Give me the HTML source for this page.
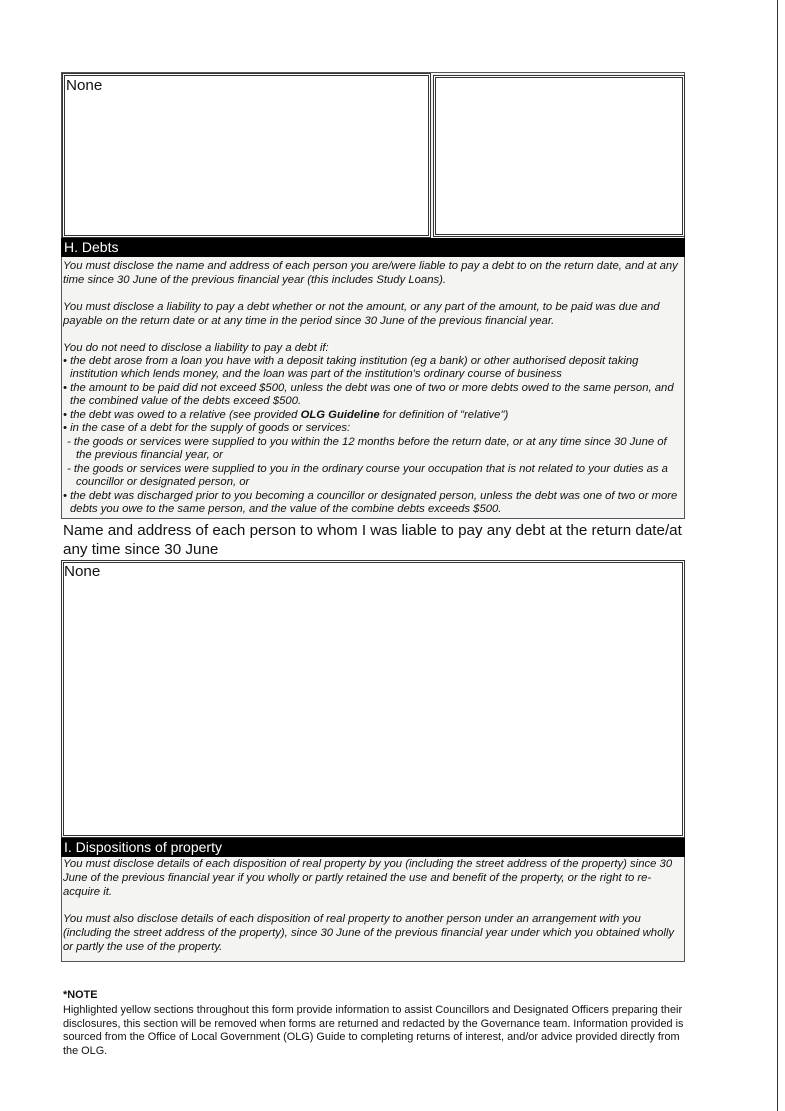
<!DOCTYPE html>
<html><head><meta charset="utf-8"><style>
body{margin:0;width:785px;height:1111px;background:#fff;position:relative;overflow:hidden;font-family:"Liberation Sans",Arial,sans-serif;color:#111}
.a{position:absolute}
.l{position:absolute;white-space:nowrap;font-style:italic;font-size:11.3px;line-height:13px}
.bar{position:absolute;background:#000;color:#fff;font-size:14px;line-height:19px;padding-left:3px}
.box{position:absolute;border:2px double #333;box-sizing:border-box}
.big{position:absolute;white-space:nowrap;font-size:15.2px;line-height:19px}
.n{position:absolute;white-space:nowrap;font-size:10.9px;line-height:13.5px}
</style></head><body>
<div class="a" style="left:777px;top:0;width:1px;height:1111px;background:#333"></div>
<div class="a" style="left:61px;top:72px;width:624px;height:890px;border:1px solid #555;box-sizing:border-box;background:#f4f4f2"></div>
<div class="box" style="left:62px;top:73px;width:369px;height:165px;background:#fff;border-width:3px"></div>
<div class="box" style="left:433px;top:75px;width:252px;height:162px;background:#fff;border-width:3px"></div>
<div class="big" style="left:66px;top:76px">None</div>
<div class="bar" style="left:61px;top:238px;width:621px">H. Debts</div>
<div class="l" style="left:63px;top:260px">You must disclose the name and address of each person you are/were liable to pay a debt to on the return date, and at any</div>
<div class="l" style="left:63px;top:274px">time since 30 June of the previous financial year (this includes Study Loans).</div>
<div class="l" style="left:63px;top:301px">You must disclose a liability to pay a debt whether or not the amount, or any part of the amount, to be paid was due and</div>
<div class="l" style="left:63px;top:315px">payable on the return date or at any time in the period since 30 June of the previous financial year.</div>
<div class="l" style="left:63px;top:342px">You do not need to disclose a liability to pay a debt if:</div>
<div class="l" style="left:63px;top:355px">• the debt arose from a loan you have with a deposit taking institution (eg a bank) or other authorised deposit taking</div>
<div class="l" style="left:70px;top:368px">institution which lends money, and the loan was part of the institution's ordinary course of business</div>
<div class="l" style="left:63px;top:382px">• the amount to be paid did not exceed $500, unless the debt was one of two or more debts owed to the same person, and</div>
<div class="l" style="left:70px;top:395px">the combined value of the debts exceed $500.</div>
<div class="l" style="left:63px;top:409px">• the debt was owed to a relative (see provided <b>OLG Guideline</b> for definition of "relative")</div>
<div class="l" style="left:63px;top:422px">• in the case of a debt for the supply of goods or services:</div>
<div class="l" style="left:67px;top:436px">- the goods or services were supplied to you within the 12 months before the return date, or at any time since 30 June of</div>
<div class="l" style="left:76px;top:449px">the previous financial year, or</div>
<div class="l" style="left:67px;top:463px">- the goods or services were supplied to you in the ordinary course your occupation that is not related to your duties as a</div>
<div class="l" style="left:76px;top:476px">councillor or designated person, or</div>
<div class="l" style="left:63px;top:490px">• the debt was discharged prior to you becoming a councillor or designated person, unless the debt was one of two or more</div>
<div class="l" style="left:70px;top:503px">debts you owe to the same person, and the value of the combine debts exceeds $500.</div>
<div class="a" style="left:61px;top:518px;width:624px;height:42px;background:#fff;border-top:1px solid #555"></div>
<div class="big" style="left:63px;top:521px">Name and address of each person to whom I was liable to pay any debt at the return date/at</div>
<div class="big" style="left:63px;top:540px">any time since 30 June</div>
<div class="box" style="left:61px;top:560px;width:624px;height:278px;background:#fff;border-width:3px"></div>
<div class="big" style="left:64px;top:562px">None</div>
<div class="bar" style="left:61px;top:838px;width:621px">I. Dispositions of property</div>
<div class="l" style="left:63px;top:858px">You must disclose details of each disposition of real property by you (including the street address of the property) since 30</div>
<div class="l" style="left:63px;top:872px">June of the previous financial year if you wholly or partly retained the use and benefit of the property, or the right to re-</div>
<div class="l" style="left:63px;top:886px">acquire it.</div>
<div class="l" style="left:63px;top:913px">You must also disclose details of each disposition of real property to another person under an arrangement with you</div>
<div class="l" style="left:63px;top:927px">(including the street address of the property), since 30 June of the previous financial year under which you obtained wholly</div>
<div class="l" style="left:63px;top:941px">or partly the use of the property.</div>
<div class="n" style="left:63px;top:989px;font-weight:bold">*NOTE</div>
<div class="n" style="left:63px;top:1004px">Highlighted yellow sections throughout this form provide information to assist Councillors and Designated Officers preparing their</div>
<div class="n" style="left:63px;top:1018px">disclosures, this section will be removed when forms are returned and redacted by the Governance team. Information provided is</div>
<div class="n" style="left:63px;top:1031px">sourced from the Office of Local Government (OLG) Guide to completing returns of interest, and/or advice provided directly from</div>
<div class="n" style="left:63px;top:1045px">the OLG.</div>
</body></html>
